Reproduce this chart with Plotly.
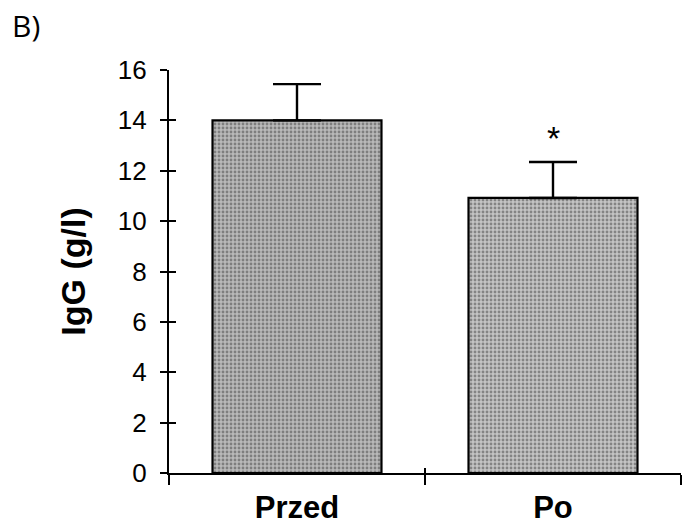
import plotly.graph_objects as go

categories = ["Przed", "Po"]
means = [14.0, 10.92]
sd_upper = [1.44, 1.43]
y_ticks = [0, 2, 4, 6, 8, 10, 12, 14, 16]
significance = ["", "*"]

fig = go.Figure()
fig.add_trace(go.Bar(
    x=categories, y=means, width=0.66,
    marker=dict(
        color=["#b9b9b9", "#c4c4c4"],
        line=dict(color="black", width=2.2),
        pattern=dict(shape=".", fgcolor=["#7f7f7f", "#929292"], bgcolor=["#d0d0d0", "#cccccc"],
                     size=4, solidity=0.4),
    ),
    error_y=dict(type="data", symmetric=False, array=sd_upper, arrayminus=[0, 0],
                 color="black", thickness=2.4, width=24),
    showlegend=False,
))
# companion invisible trace on overlaid axes to draw inward tick halves (crossing ticks)
fig.add_trace(go.Scatter(x=categories, y=means, yaxis="y2", xaxis="x2",
                         mode="markers", marker=dict(opacity=0), hoverinfo="skip", showlegend=False))

for c, m, e, s in zip(categories, means, sd_upper, significance):
    if s:
        fig.add_annotation(x=c, y=m + e, text=s, showarrow=False, yshift=24,
                           font=dict(family="Liberation Sans, Arial", size=34, color="black"))

fig.add_annotation(xref="paper", yref="paper", x=-0.31, y=1.11, xanchor="left", yanchor="middle",
                   text="B)", showarrow=False,
                   font=dict(family="Open Sans, DejaVu Sans", size=30, color="black"))

fig.update_layout(
    width=687, height=526,
    margin=dict(l=169, r=6, t=70, b=53),
    paper_bgcolor="white", plot_bgcolor="white",
    xaxis=dict(showline=True, linecolor="black", linewidth=2.4, ticks="outside", ticklen=10,
               tickwidth=2.4, tickcolor="black", tickson="boundaries", showgrid=False,
               tickfont=dict(family="Liberation Sans, Arial", size=31, color="black"),
               ticklabelstandoff=6, tickprefix="<b>", ticksuffix="</b>", zeroline=False,
               range=[-0.5, 1.5], automargin=False),
    xaxis2=dict(overlaying="x", matches="x", showline=False, ticks="inside", ticklen=5,
                tickwidth=2.4, tickcolor="black", tickson="boundaries", showticklabels=False,
                showgrid=False, zeroline=False, side="bottom", automargin=False),
    yaxis=dict(range=[0, 16], tickvals=y_ticks, showline=True, linecolor="black", linewidth=2.4,
               ticks="outside", ticklen=7, tickwidth=2.2, tickcolor="black", showgrid=False,
               zeroline=False, ticklabelstandoff=8, automargin=False,
               tickfont=dict(family="Liberation Sans, Arial", size=26, color="black"),
               title=dict(text="<b>IgG (g/l)</b>", standoff=22,
                          font=dict(family="Liberation Sans, Arial", size=34, color="black"))),
    yaxis2=dict(range=[0, 16], tickvals=y_ticks, overlaying="y", ticks="inside", ticklen=7,
                tickwidth=2.2, tickcolor="black", showticklabels=False, showgrid=False,
                zeroline=False, showline=False, automargin=False),
)
fig.write_html("out.html")
